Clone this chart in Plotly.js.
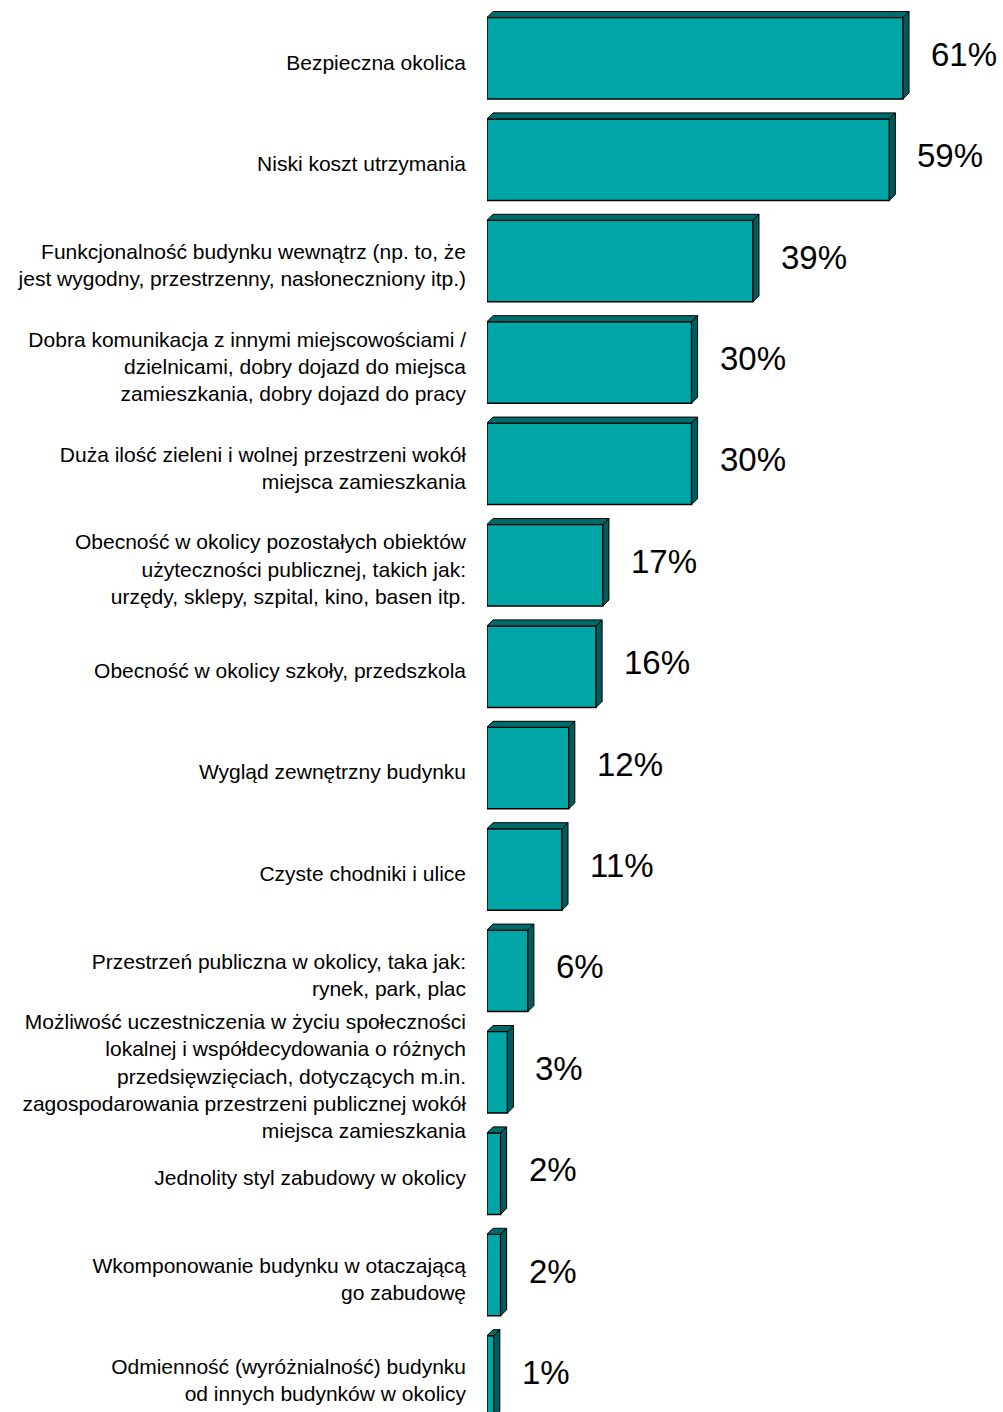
<!DOCTYPE html>
<html>
<head>
<meta charset="utf-8">
<script src="https://cdn.plot.ly/plotly-3.0.1.min.js"></script>
<style>html,body{margin:0;padding:0;background:#fff;}#chart{width:1003px;height:1412px;}</style>
</head>
<body>
<div id="chart"></div>
<script>
const categories = [
  "Bezpieczna okolica",
  "Niski koszt utrzymania",
  "Funkcjonalność budynku wewnątrz (np. to, że<br>jest wygodny, przestrzenny, nasłoneczniony itp.)",
  "Dobra komunikacja z innymi miejscowościami /<br>dzielnicami, dobry dojazd do miejsca<br>zamieszkania, dobry dojazd do pracy",
  "Duża ilość zieleni i wolnej przestrzeni wokół<br>miejsca zamieszkania",
  "Obecność w okolicy pozostałych obiektów<br>użyteczności publicznej, takich jak:<br>urzędy, sklepy, szpital, kino, basen itp.",
  "Obecność w okolicy szkoły, przedszkola",
  "Wygląd zewnętrzny budynku",
  "Czyste chodniki i ulice",
  "Przestrzeń publiczna w okolicy, taka jak:<br>rynek, park, plac",
  "Możliwość uczestniczenia w życiu społeczności<br>lokalnej i współdecydowania o różnych<br>przedsięwzięciach, dotyczących m.in.<br>zagospodarowania przestrzeni publicznej wokół<br>miejsca zamieszkania",
  "Jednolity styl zabudowy w okolicy",
  "Wkomponowanie budynku w otaczającą<br>go zabudowę",
  "Odmienność (wyróżnialność) budynku<br>od innych budynków w okolicy"
];
const values = [61, 59, 39, 30, 30, 17, 16, 12, 11, 6, 3, 2, 2, 1];
const valueLabels = ["61%", "59%", "39%", "30%", "30%", "17%", "16%", "12%", "11%", "6%", "3%", "2%", "2%", "1%"];

// geometry (styling constants)
const W = 1003, H = 1412;
const marginL = 487;
const pxPerPct = 6.82;
const pitch = 101.4;
const firstCenterPx = 58.25;
const barW = 0.804;
const depthPx = 6;
const dx = depthPx / pxPerPct;
const dy = depthPx / pitch;

const idx = categories.map((_, i) => i);
const xMax = (W - marginL) / pxPerPct;
const yTop = -firstCenterPx / pitch;
const yBottom = yTop + H / pitch;

const front = {
  type: 'bar', orientation: 'h', x: values, y: idx, width: barW,
  marker: {color: '#00A6A6', line: {color: '#000000', width: 1.5}},
  hoverinfo: 'skip', showlegend: false
};

const topX = [], topY = [], sideX = [], sideY = [];
values.forEach((v, i) => {
  const t = i - barW / 2, b = i + barW / 2;
  topX.push(0, v, v + dx, dx, 0, null);
  topY.push(t, t, t - dy, t - dy, t, null);
  sideX.push(v, v + dx, v + dx, v, v, null);
  sideY.push(t, t - dy, b - dy, b, t, null);
});
const topFaces = {
  type: 'scatter', mode: 'lines', x: topX, y: topY, fill: 'toself',
  fillcolor: '#006B6B', line: {color: '#000000', width: 1}, hoverinfo: 'skip', showlegend: false
};
const sideFaces = {
  type: 'scatter', mode: 'lines', x: sideX, y: sideY, fill: 'toself',
  fillcolor: '#005C5C', line: {color: '#000000', width: 1}, hoverinfo: 'skip', showlegend: false
};

const annotations = values.map((v, i) => ({
  x: v, y: i, xref: 'x', yref: 'y', text: valueLabels[i], showarrow: false,
  xanchor: 'left', yanchor: 'middle', xshift: 26, yshift: 4,
  font: {family: 'Liberation Sans, Arial, sans-serif', size: 33, color: '#000000'}
}));

const layout = {
  width: W, height: H,
  margin: {l: marginL, r: 0, t: 0, b: 0, pad: 0},
  paper_bgcolor: '#ffffff', plot_bgcolor: '#ffffff',
  barmode: 'overlay',
  xaxis: {range: [0, xMax], showgrid: false, zeroline: false, showline: false,
          showticklabels: false, ticks: '', fixedrange: true},
  yaxis: {range: [yBottom, yTop], tickmode: 'array', tickvals: idx, ticktext: categories,
          showgrid: false, zeroline: false, showline: false, ticks: '', automargin: false,
          ticklabelstandoff: 20, ticklabelshift: -4,
          tickfont: {family: 'Liberation Sans, Arial, sans-serif', size: 21, color: '#000000'}},
  annotations: annotations,
  showlegend: false
};

Plotly.newPlot('chart', [front, topFaces, sideFaces], layout, {staticPlot: true, displayModeBar: false});
</script>
</body>
</html>
